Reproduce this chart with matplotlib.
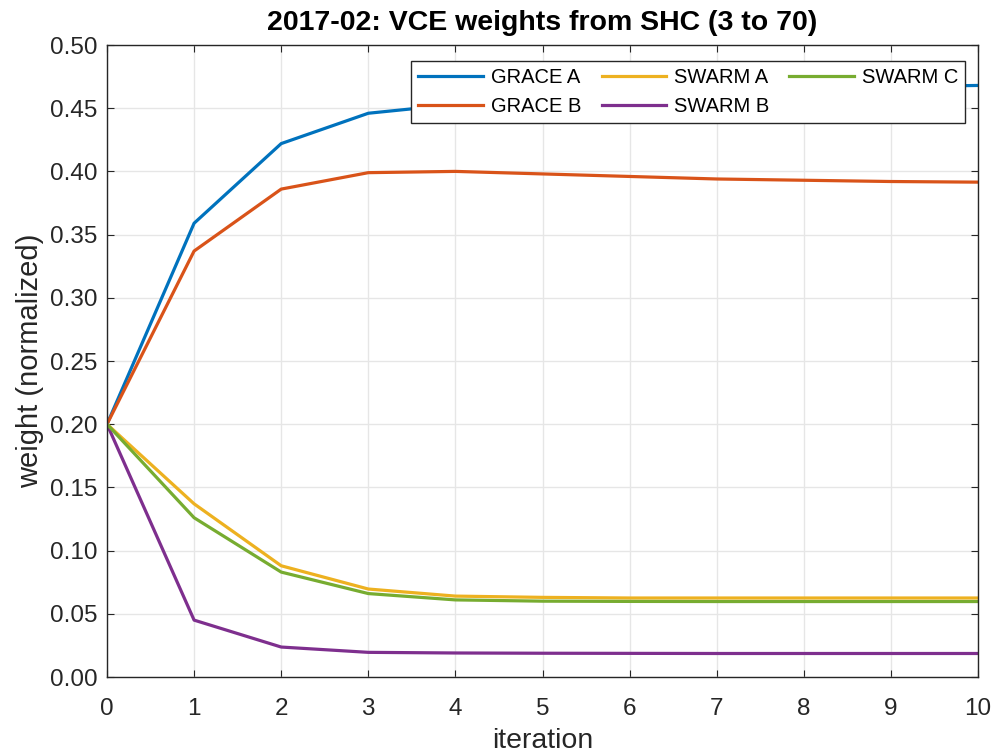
import matplotlib
matplotlib.use("Agg")
import matplotlib.pyplot as plt
import numpy as np

plt.rcParams['font.family'] = ['Liberation Sans', 'DejaVu Sans']

iterations = [0, 1, 2, 3, 4, 5, 6, 7, 8, 9, 10]
grace_a = [0.200, 0.359, 0.422, 0.446, 0.453, 0.458, 0.461, 0.463, 0.465, 0.467, 0.468]
grace_b = [0.200, 0.337, 0.386, 0.399, 0.400, 0.398, 0.396, 0.394, 0.393, 0.392, 0.3915]
swarm_a = [0.200, 0.137, 0.088, 0.0696, 0.064, 0.063, 0.0625, 0.0625, 0.0625, 0.0625, 0.0625]
swarm_b = [0.200, 0.045, 0.0237, 0.0195, 0.019, 0.0188, 0.0187, 0.0186, 0.0186, 0.0186, 0.0186]
swarm_c = [0.200, 0.126, 0.083, 0.066, 0.061, 0.060, 0.0598, 0.0597, 0.0597, 0.0597, 0.0597]

series = [("GRACE A", grace_a, (0, 0.447, 0.741)),
          ("GRACE B", grace_b, (0.85, 0.325, 0.098)),
          ("SWARM A", swarm_a, (0.929, 0.694, 0.125)),
          ("SWARM B", swarm_b, (0.494, 0.184, 0.556)),
          ("SWARM C", swarm_c, (0.466, 0.674, 0.188))]

fig = plt.figure(figsize=(9.97, 7.55), dpi=100)
ax = fig.add_axes([107/997, 1-677/755, (978-107)/997, (677-45)/755])

for name, vals, col in series:
    ax.plot(iterations, vals, color=col, lw=2.3, label=name)

ax.set_xlim(0, 10)
ax.set_ylim(0, 0.5)
ax.set_xticks(range(0, 11))
ax.set_yticks(np.arange(0, 0.501, 0.05))
ax.set_yticklabels([f"{v:.2f}" for v in np.arange(0, 0.501, 0.05)])
ax.grid(True, color='#e6e6e6', lw=1)
ax.set_axisbelow(True)
ax.tick_params(direction='in', top=True, right=True, labelsize=17.5, colors='#262626', length=5)
ax.tick_params(axis='x', pad=15)
ax.tick_params(axis='y', pad=7)
for s in ax.spines.values():
    s.set_color('#262626')
    s.set_linewidth(1)
ax.set_xlabel("iteration", fontsize=20.5, color='#262626', labelpad=6)
ax.set_ylabel("weight (normalized)", fontsize=21, color='#262626', labelpad=4)
ax.set_title("2017-02: VCE weights from SHC (3 to 70)", fontsize=20.5, fontweight='bold', pad=11)

leg = ax.legend(ncol=3, loc='upper right', bbox_to_anchor=(0.997, 0.991), fontsize=14.5,
                frameon=True, fancybox=False, edgecolor='#262626', framealpha=1,
                handlelength=3.2, columnspacing=1.0, handletextpad=0.4,
                borderpad=0.35, labelspacing=0.5)
leg.get_frame().set_linewidth(1)

fig.savefig("out.png", dpi=100)
